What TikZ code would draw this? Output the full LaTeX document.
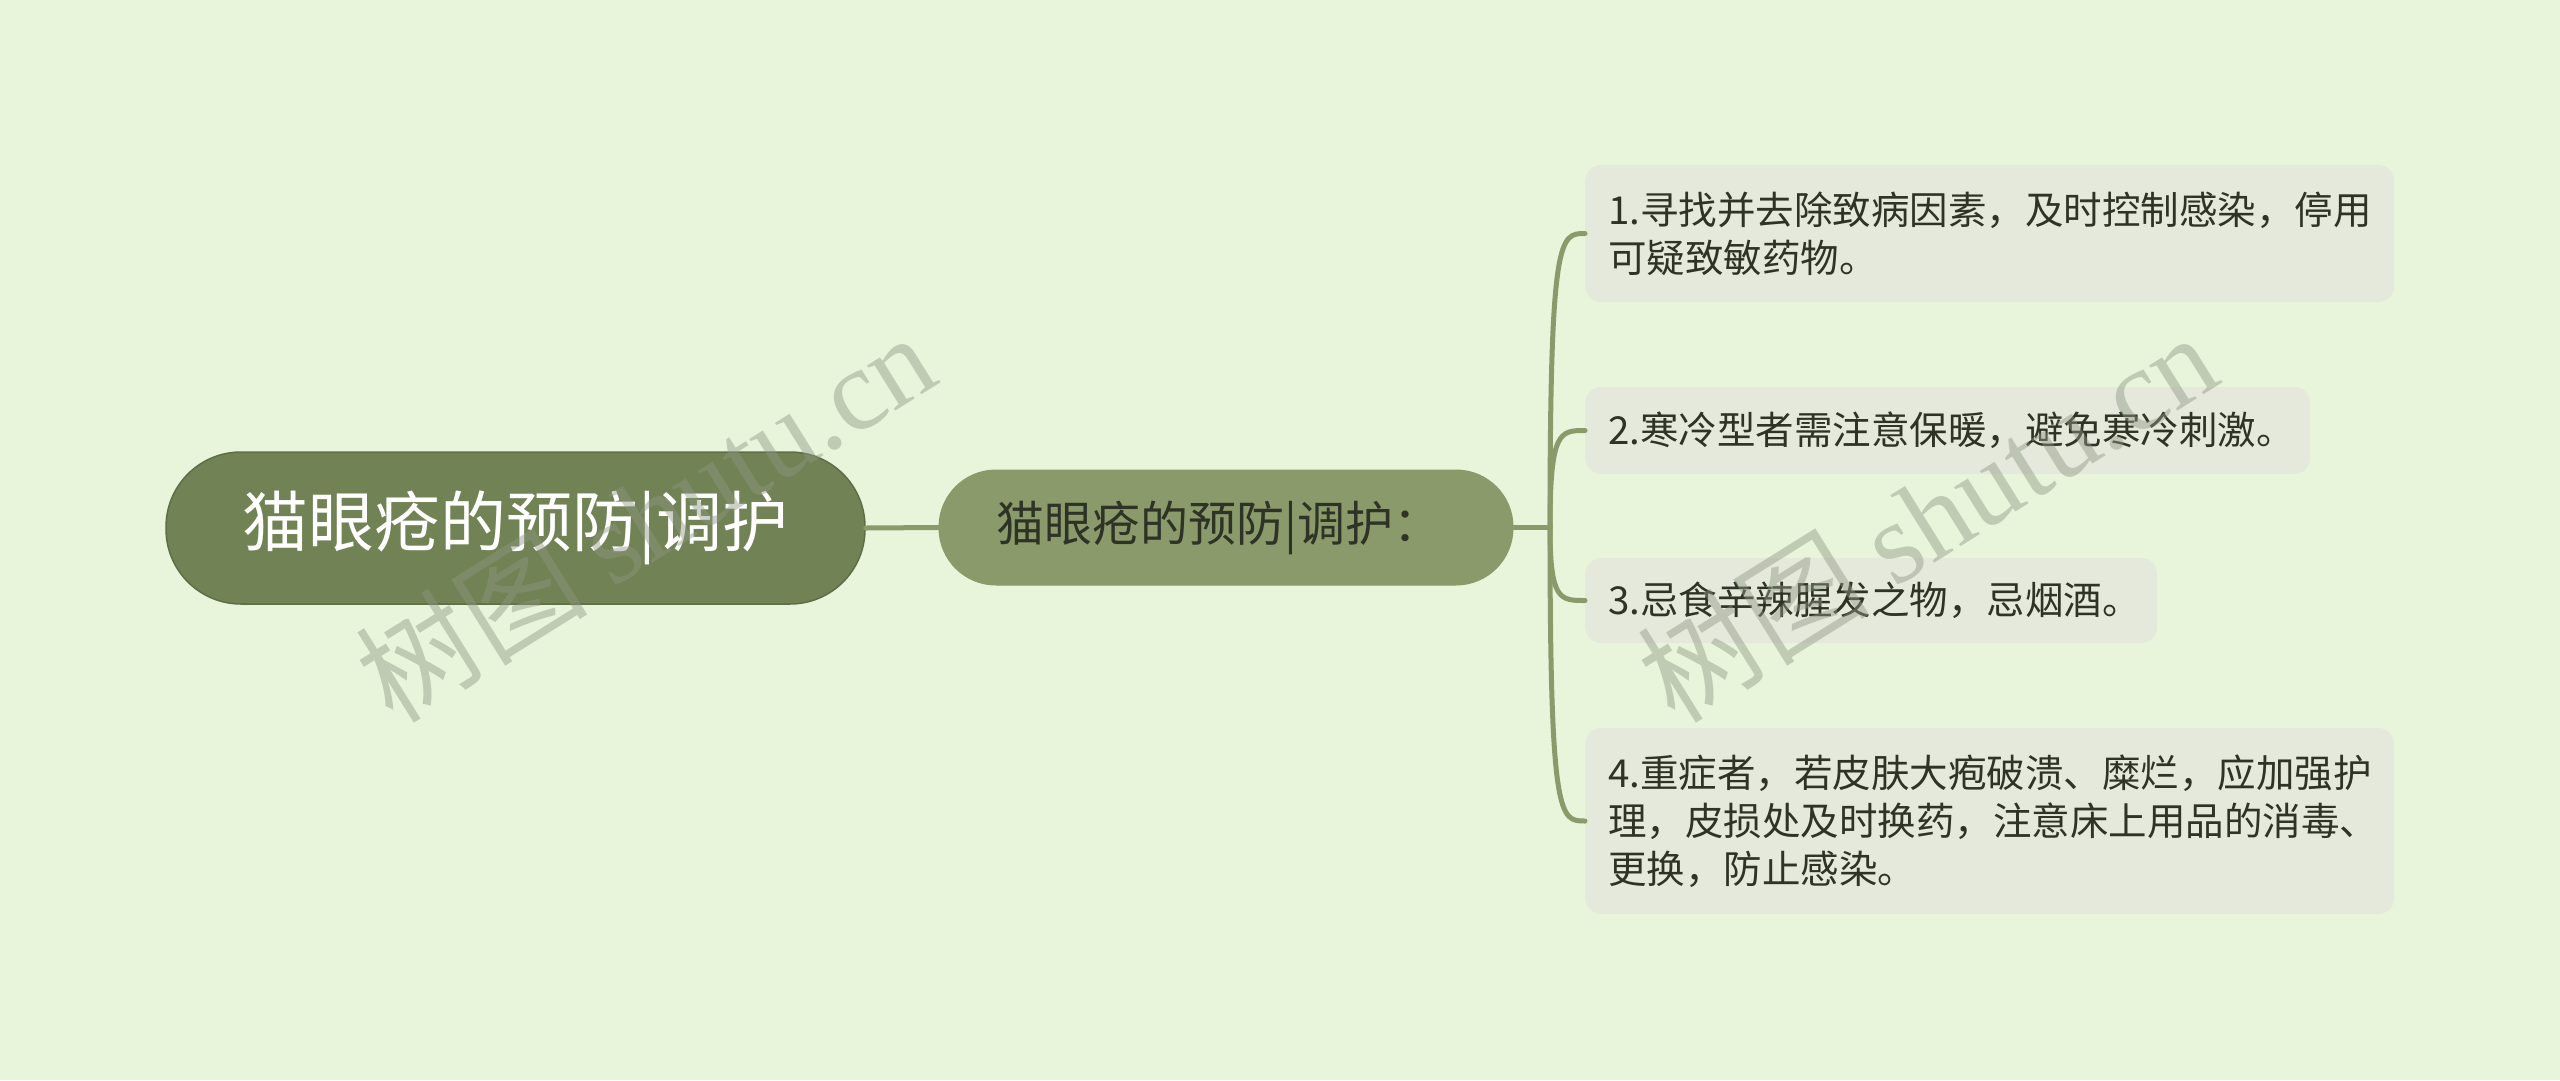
\documentclass[tikz,border=0pt]{standalone}
\usepackage{fontspec}
\setmainfont{Noto Sans CJK SC}
\newfontfamily\wmlatin{Liberation Serif}
\definecolor{bgc}{HTML}{E8F5DB}
\definecolor{rootc}{HTML}{718254}
\definecolor{rootline}{HTML}{5E6E45}
\definecolor{midc}{HTML}{8A9A6A}
\definecolor{leafc}{HTML}{E5E9DC}
\definecolor{linec}{HTML}{8A9A6A}
\definecolor{darktext}{HTML}{2E3326}
\definecolor{wmc}{HTML}{909884}
\tikzset{
  rootbox/.style={rectangle, rounded corners=75pt, fill=rootc, draw=rootline, line width=1.5pt,
    minimum width=699pt, minimum height=152pt, inner sep=0pt, text=white,
    font=\fontsize{66}{66}\selectfont},
  midbox/.style={rectangle, rounded corners=57pt, fill=midc, draw=midc, line width=1pt,
    minimum width=574pt, minimum height=115pt, inner sep=0pt, text=darktext,
    font=\fontsize{48}{48}\selectfont},
  leafbox/.style={rectangle, rounded corners=16pt, fill=leafc, draw=none, inner sep=0pt, anchor=west},
  leaftext/.style={anchor=west, align=left, inner sep=0pt, text=darktext,
    font=\fontsize{38.5}{48}\selectfont},
  conn/.style={draw=linec, line width=5pt, line cap=round},
  wm/.style={text=wmc, text opacity=0.45, inner sep=0pt, font=\fontsize{116}{116}\selectfont}
}
\begin{document}
\begin{tikzpicture}[x=1pt,y=-1pt]
\useasboundingbox[fill=bgc] (0,0) rectangle (2560,1080);

\coordinate (j) at (1550,527.5);
\coordinate (j2) at (1560,527.5);

\node[rootbox] (root) at (515.5,528) {猫眼疮的预防|调护};
\node[midbox] (mid) at (1226,527.5) {\kern-14pt 猫眼疮的预防|调护：};

\node[leafbox, minimum width=809pt, minimum height=137pt] (l1) at (1585,233.5) {};
\node[leafbox, minimum width=725pt, minimum height=87pt] (l2) at (1585,430.5) {};
\node[leafbox, minimum width=572pt, minimum height=85pt] (l3) at (1585,600.5) {};
\node[leafbox, minimum width=809pt, minimum height=186pt] (l4) at (1585,821) {};

\node[leaftext] (t1) at ([xshift=23pt]l1.west) {1.寻找并去除致病因素，及时控制感染，停用\\可疑致敏药物。};
\node[leaftext] (t2) at ([xshift=23pt]l2.west) {2.寒冷型者需注意保暖，避免寒冷刺激。};
\node[leaftext] (t3) at ([xshift=23pt]l3.west) {3.忌食辛辣腥发之物，忌烟酒。};
\node[leaftext] (t4) at ([xshift=23pt]l4.west) {4.重症者，若皮肤大疱破溃、糜烂，应加强护\\理，皮损处及时换药，注意床上用品的消毒、\\更换，防止感染。};

\draw[conn] (root.east) -- (mid.west);
\draw[conn] (mid.east) -- (j);
\foreach \l in {l1,l2,l3,l4}{
  \draw[conn] (j) .. controls (j |- \l.west) and (j2 |- \l.west) .. (\l.west);
}

\node[wm, rotate=32] (wm1) at (645,516) {树图 {\wmlatin shutu.cn}};
\node[wm, rotate=32] (wm2) at (1927,516) {树图 {\wmlatin shutu.cn}};
\end{tikzpicture}
\end{document}
